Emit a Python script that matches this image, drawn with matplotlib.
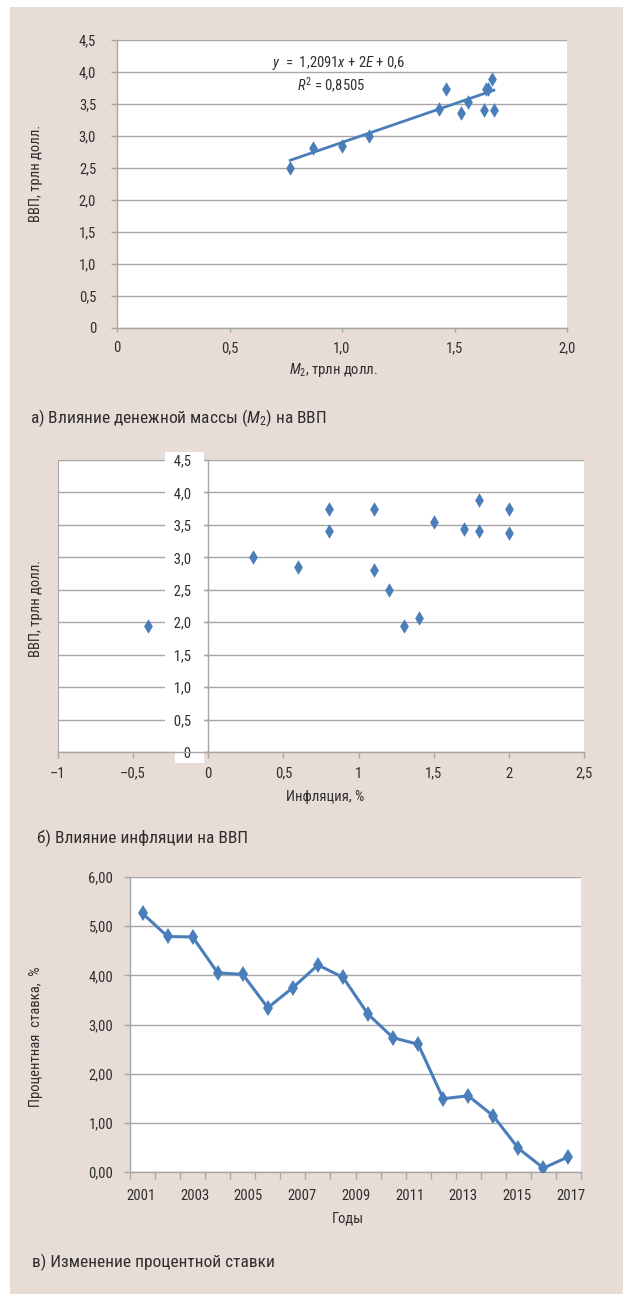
import matplotlib
matplotlib.use("Agg")
import matplotlib.pyplot as plt
import numpy as np
from matplotlib.patches import Rectangle

# --- data -------------------------------------------------------------
# (a) money supply M2 vs GDP, trillion USD
m2 = [0.77, 0.87, 1.00, 1.12, 1.43, 1.46, 1.53, 1.56, 1.63, 1.64, 1.65, 1.665, 1.675]
gdp_m2 = [2.50, 2.82, 2.85, 3.00, 3.42, 3.74, 3.36, 3.53, 3.41, 3.74, 3.73, 3.89, 3.41]
trend_slope = 1.2091
trend_intercept = 1.69
trend_eq = r"$y$  =  1,2091$x$ + 2$E$ + 0,6"
trend_r2 = r"$R^2$ = 0,8505"

# (b) inflation, % vs GDP
inflation = [-0.4, 0.3, 0.6, 0.8, 0.8, 1.1, 1.1, 1.2, 1.3, 1.4, 1.5, 1.7, 1.8, 1.8, 2.0, 2.0]
gdp_infl = [1.94, 3.00, 2.85, 3.74, 3.40, 3.75, 2.81, 2.50, 1.94, 2.07, 3.54, 3.43, 3.89, 3.41, 3.74, 3.37]

# (c) interest rate, %
rate = [5.26, 4.79, 4.78, 4.05, 4.02, 3.34, 3.75, 4.21, 3.96, 3.21, 2.73, 2.60,
        1.49, 1.55, 1.14, 0.48, 0.08, 0.31]
year_labels = ["2001", "2003", "2005", "2007", "2009", "2011", "2013", "2015", "2017"]

y_ticks_ab = [0, 0.5, 1.0, 1.5, 2.0, 2.5, 3.0, 3.5, 4.0, 4.5]
y_labels_a = ["0", "0,5", "1,0", "1,5", "2,0", "2,5", "3,0", "3,5", "4,0", "4,5"]
x_ticks_a = [0, 0.5, 1.0, 1.5, 2.0]
x_labels_a = ["0", "0,5", "1,0", "1,5", "2,0"]
x_ticks_b = [-1, -0.5, 0, 0.5, 1, 1.5, 2, 2.5]
x_labels_b = ["\u20131", "\u20130,5", "0", "0,5", "1", "1,5", "2", "2,5"]
y_ticks_c = [0, 1, 2, 3, 4, 5, 6]
y_labels_c = ["0,00", "1,00", "2,00", "3,00", "4,00", "5,00", "6,00"]

# --- style ------------------------------------------------------------
FONT = "Roboto Condensed"
plt.rcParams["font.family"] = [FONT, "DejaVu Sans"]
plt.rcParams["mathtext.fontset"] = "custom"
plt.rcParams["mathtext.rm"] = FONT
plt.rcParams["mathtext.it"] = FONT + ":italic"

BLUE = "#4a7ebb"
GRID = "#a6a6a6"
TEXT = "#2e2e2e"
BEIGE = "#e8dcd7"
TICK_FS = 10.5
CAP_FS = 12.5

W, H = 623, 1294
fig = plt.figure(figsize=(W / 100, H / 100), dpi=100, facecolor="white")
fig.patches.append(Rectangle((10 / W, 0), 1, (H - 7) / H, transform=fig.transFigure,
                             facecolor=BEIGE, edgecolor="none", zorder=-1))


def px_axes(left, top, right, bottom):
    return fig.add_axes([left / W, 1 - bottom / H, (right - left) / W, (bottom - top) / H])


def base_style(ax):
    ax.set_facecolor("white")
    ax.set_axisbelow(True)
    ax.yaxis.grid(True, color=GRID, lw=1)
    for s in ("top", "right"):
        ax.spines[s].set_visible(False)
    for s in ("left", "bottom"):
        ax.spines[s].set_color(GRID)
        ax.spines[s].set_linewidth(1)
    ax.tick_params(colors=GRID, labelcolor=TEXT, labelsize=TICK_FS, width=1)


def axis_labels(ax, xlabel, ylabel, xpos, ypos):
    ax.set_xlabel(xlabel, fontsize=TICK_FS, color=TEXT)
    ax.set_ylabel(ylabel, fontsize=TICK_FS, color=TEXT)
    ax.xaxis.set_label_coords(*xpos)
    ax.yaxis.set_label_coords(*ypos)
    ax.xaxis.label.set_va("center")
    ax.yaxis.label.set_va("center")


# --- (a) -------------------------------------------------------------
ax = px_axes(117, 40, 567, 328)
base_style(ax)
ax.scatter(m2, gdp_m2, marker="d", s=55, color=BLUE, zorder=3, linewidths=0)
xs = np.array([min(m2), max(m2)])
ax.plot(xs, trend_slope * xs + trend_intercept, color=BLUE, lw=2, zorder=2)
ax.set_xlim(0, 2)
ax.set_ylim(0, 4.5)
ax.set_xticks(x_ticks_a, x_labels_a)
ax.set_yticks(y_ticks_ab, y_labels_a)
ax.tick_params(axis="x", length=3, pad=6.5)
ax.tick_params(axis="y", length=4, pad=11)
ax.text(0.344, 0.92, trend_eq, transform=ax.transAxes, fontsize=TICK_FS, color=TEXT, va="center")
ax.text(0.40, 0.844, trend_r2, transform=ax.transAxes, fontsize=TICK_FS, color=TEXT, va="center")
axis_labels(ax, "$M_2$, трлн долл.", "ВВП, трлн долл.", (0.482, -0.146), (-0.18, 0.538))
fig.text(30 / W, 1 - 418 / H, "а) Влияние денежной массы ($M_2$) на ВВП",
         fontsize=CAP_FS, color=TEXT, va="center")

# --- (b) -------------------------------------------------------------
ax = px_axes(58, 460, 584, 752)
base_style(ax)
ax.scatter(inflation, gdp_infl, marker="d", s=55, color=BLUE, zorder=3, linewidths=0)
ax.set_xlim(x_ticks_b[0], x_ticks_b[-1])
ax.set_ylim(0, 4.5)
ax.spines["left"].set_position(("data", 0))
ax.axvline(x_ticks_b[0], color=GRID, lw=1.5, zorder=1)
ax.set_xticks(x_ticks_b, x_labels_b)
# labels sit on a white strip that interrupts the gridlines
ax.set_yticks(y_ticks_ab, ["  " + s + "   " for s in y_labels_a])
ax.tick_params(axis="x", length=4, pad=6.5)
ax.tick_params(axis="y", length=5, pad=0)
for lbl in ax.get_yticklabels():
    lbl.set_bbox(dict(facecolor="white", edgecolor="none", boxstyle="square,pad=0.15"))
axis_labels(ax, "Инфляция, %", "ВВП, трлн долл.", (0.508, -0.154), (-0.042, 0.493))
fig.text(37 / W, 1 - 838 / H, "б) Влияние инфляции на ВВП",
         fontsize=CAP_FS, color=TEXT, va="center")

# --- (c) -------------------------------------------------------------
ax = px_axes(130, 877, 581, 1172)
base_style(ax)
idx = np.arange(len(rate))
ax.plot(idx, rate, color=BLUE, lw=2.2, marker="d", ms=8, mew=0, zorder=3)
ax.set_xlim(-0.5, len(rate) - 0.5)
ax.set_ylim(0, 6)
ax.set_yticks(y_ticks_c, y_labels_c)
ax.set_xticks(np.linspace(-0.07, len(rate) - 0.91, len(year_labels)), year_labels)
ax.set_xticks(np.arange(len(rate) + 1) - 0.5, minor=True)
ax.tick_params(axis="x", which="major", length=0, pad=12)
ax.tick_params(axis="x", which="minor", length=5, color=GRID, width=1)
ax.tick_params(axis="y", length=4, pad=8)
axis_labels(ax, "Годы", "Процентная  ставка,  %", (0.482, -0.157), (-0.208, 0.457))
fig.text(32 / W, 1 - 1262 / H, "в) Изменение процентной ставки",
         fontsize=CAP_FS, color=TEXT, va="center")

fig.savefig("out.png", dpi=100, facecolor="white")
